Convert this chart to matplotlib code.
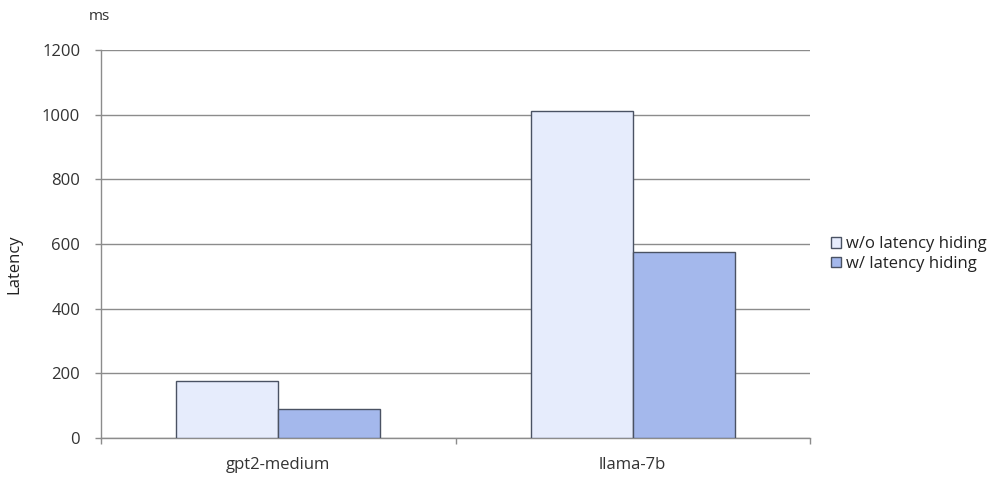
import matplotlib
matplotlib.use("Agg")
import matplotlib.pyplot as plt
import numpy as np

plt.rcParams['font.family'] = ['Open Sans', 'DejaVu Sans']

categories = ["gpt2-medium", "llama-7b"]
series_names = ["w/o latency hiding", "w/ latency hiding"]
wo_hiding = [176, 1012]
w_hiding = [91, 575]
yticks = [0, 200, 400, 600, 800, 1000, 1200]

colors = ["#E6ECFC", "#A4B8EC"]
edge = "#4A5263"
axis_gray = "#8C8C8C"
FS = 12

fig = plt.figure(figsize=(10.04, 4.78), dpi=100)
ax = fig.add_axes([101/1004, 40/478, 709/1004, 388/478])

x = np.arange(len(categories))
w = 0.2875
ax.bar(x - w/2, wo_hiding, w, color=colors[0], edgecolor=edge, linewidth=1.0,
       label=series_names[0], zorder=3)
ax.bar(x + w/2, w_hiding, w, color=colors[1], edgecolor=edge, linewidth=1.0,
       label=series_names[1], zorder=3)

ax.set_xlim(-0.5, 1.5)
ax.set_ylim(0, 1200)
ax.set_yticks(yticks)
ax.set_yticklabels([str(v) for v in yticks], fontsize=FS, color="#333333")
ax.yaxis.grid(True, color=axis_gray, linewidth=1.0, zorder=0)

ax.set_xticks(x)
ax.set_xticklabels(categories, fontsize=FS, color="#333333")
ax.tick_params(axis='x', length=0, pad=14)
ax.set_xticks([-0.5, 0.5, 1.5], minor=True)
ax.tick_params(axis='x', which='minor', length=4, color=axis_gray, width=1)
ax.tick_params(axis='y', length=4, color=axis_gray, width=1, pad=11)

for s in ['top', 'right']:
    ax.spines[s].set_visible(False)
for s in ['left', 'bottom']:
    ax.spines[s].set_color(axis_gray)
    ax.spines[s].set_linewidth(1.0)

ax.set_ylabel("Latency", fontsize=FS, color="#222222")
ax.yaxis.set_label_coords(-0.111, 0.448)
fig.text(99/1004, 1 - 17/478, "ms", fontsize=11, color="#333333",
         ha='center', va='center')

leg = ax.legend(loc='center left', bbox_to_anchor=(831/709 - 101/709, (438-254)/388),
                frameon=False, fontsize=FS, handlelength=0.6, handleheight=0.6,
                handletextpad=0.3, labelspacing=0.2, borderaxespad=0,
                borderpad=0)
for t in leg.get_texts():
    t.set_color("#222222")

fig.savefig("out.png", dpi=100)
